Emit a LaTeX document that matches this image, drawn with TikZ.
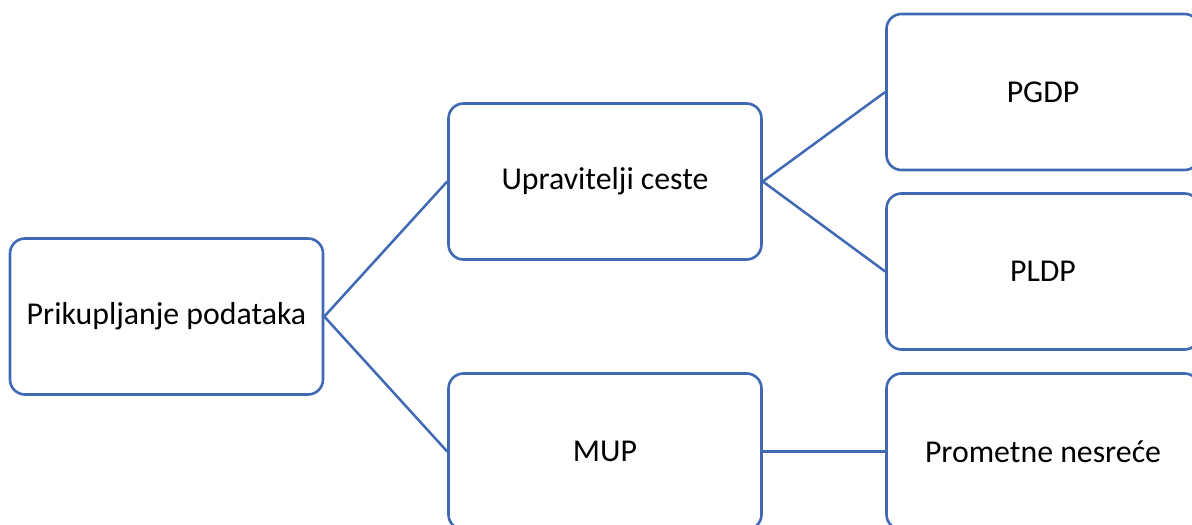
\documentclass[tikz,border=0pt]{standalone}
\usepackage{fontspec}
\setmainfont{Carlito}
\definecolor{boxblue}{HTML}{4069B4}
\begin{document}
\begin{tikzpicture}[x=1pt,y=-1pt,
  box/.style={draw=boxblue, line width=2.6pt, rounded corners=15pt, fill=white,
    minimum width=313pt, minimum height=156pt, inner sep=0pt,
    font=\fontsize{31.8}{38}\selectfont},
  link/.style={draw=boxblue, line width=2.5pt}]
\useasboundingbox (0,0) rectangle (1192,525);
\clip (0,0) rectangle (1192,525);
\node[box] (a) at (166.5,316.5) {Prikupljanje podataka};
\node[box] (b) at (605,181.5) {Upravitelji ceste};
\node[box] (c) at (605,451.5) {MUP};
\node[box] (d) at (1043,92) {PGDP};
\node[box] (e) at (1043,271.5) {PLDP};
\node[box] (f) at (1043,451.5) {Prometne nesreće};
\draw[link] (a.east) -- (b.west);
\draw[link] (a.east) -- (c.west);
\draw[link] (b.east) -- (d.west);
\draw[link] (b.east) -- (e.west);
\draw[link] (c.east) -- (f.west);
\end{tikzpicture}
\end{document}
